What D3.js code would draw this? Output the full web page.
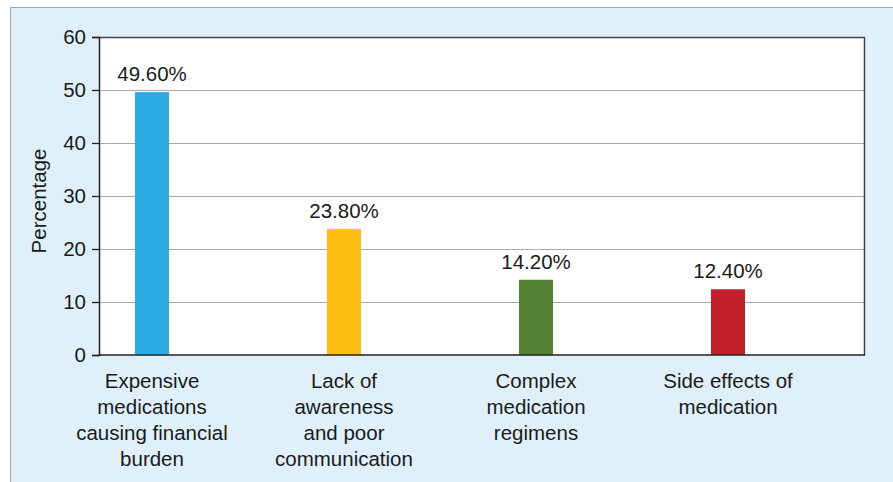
<!DOCTYPE html>
<html>
<head>
<meta charset="utf-8">
<script src="https://cdn.jsdelivr.net/npm/d3@7"></script>
<style>
  body { margin: 0; background: #fff; }
  svg { display: block; font-family: "Liberation Sans", Arial, sans-serif; }
</style>
</head>
<body>
<svg id="chart" width="893" height="482"></svg>
<script>
const categories = [
  ["Expensive", "medications", "causing financial", "burden"],
  ["Lack of", "awareness", "and poor", "communication"],
  ["Complex", "medication", "regimens"],
  ["Side effects of", "medication"]
];
const values = [49.6, 23.8, 14.2, 12.4];
const barColors = ["#29abe2", "#fdbf12", "#538135", "#c0202a"];
const yTicks = [0, 10, 20, 30, 40, 50, 60];

const width = 893, height = 482;
const plot = { left: 99, right: 865, top: 37, bottom: 355 };
const fs = 20.5;

const svg = d3.select("#chart");

// light blue panel
svg.append("rect")
    .attr("x", 10.5).attr("y", 7.5)
    .attr("width", width - 10).attr("height", height - 7)
    .attr("fill", "#dff0fa")
    .attr("stroke", "#a8a8a8");

svg.append("rect")
    .attr("x", plot.left).attr("y", plot.top)
    .attr("width", plot.right - plot.left).attr("height", plot.bottom - plot.top)
    .attr("fill", "#fff");

const y = d3.scaleLinear().domain([0, 60]).range([plot.bottom, plot.top]);
const x = d3.scalePoint()
    .domain(d3.range(values.length))
    .range([plot.left + 53, plot.right - 137]);
const barW = 34;

// grid
svg.append("g")
    .selectAll("line")
    .data(yTicks.filter(d => d > 0 && d < 60))
    .join("line")
    .attr("x1", plot.left).attr("x2", plot.right)
    .attr("y1", d => Math.round(y(d)) + 0.5).attr("y2", d => Math.round(y(d)) + 0.5)
    .attr("stroke", "#a9a9a9")
    .attr("stroke-width", 1.2);

// frame top/right
svg.append("path")
    .attr("d", `M${plot.left},${plot.top + 0.5}H${plot.right - 0.5}V${plot.bottom}`)
    .attr("fill", "none")
    .attr("stroke", "#444")
    .attr("stroke-width", 1.5);

// bars
svg.append("g")
    .selectAll("rect")
    .data(values)
    .join("rect")
    .attr("x", (d, i) => x(i) - barW / 2)
    .attr("y", d => y(d))
    .attr("width", barW)
    .attr("height", d => y(0) - y(d))
    .attr("fill", (d, i) => barColors[i]);

// value labels
svg.append("g")
    .selectAll("text")
    .data(values)
    .join("text")
    .attr("x", (d, i) => x(i))
    .attr("y", d => y(d) - 11)
    .attr("text-anchor", "middle")
    .attr("font-size", fs)
    .attr("fill", "#1a1a1a")
    .text(d => d.toFixed(2) + "%");

// y axis
const yAxis = svg.append("g")
    .attr("transform", `translate(${plot.left},0)`)
    .call(d3.axisLeft(y).tickValues(yTicks).tickSize(7).tickPadding(6));
yAxis.select(".domain").attr("stroke", "#222").attr("stroke-width", 1.5);
yAxis.selectAll(".tick line").attr("stroke", "#222").attr("stroke-width", 1.3);
yAxis.selectAll(".tick text")
    .attr("font-size", fs)
    .attr("font-family", "Liberation Sans, Arial, sans-serif")
    .attr("fill", "#1a1a1a");

// x axis baseline
svg.append("line")
    .attr("x1", plot.left).attr("x2", plot.right)
    .attr("y1", plot.bottom).attr("y2", plot.bottom)
    .attr("stroke", "#222")
    .attr("stroke-width", 1.5);

// category labels
const catText = svg.append("g")
    .selectAll("text")
    .data(categories)
    .join("text")
    .attr("text-anchor", "middle")
    .attr("font-size", fs)
    .attr("fill", "#1a1a1a");
catText.each(function(lines, i) {
  d3.select(this).selectAll("tspan")
    .data(lines)
    .join("tspan")
    .attr("x", x(i))
    .attr("y", (d, j) => 388 + j * 26)
    .text(d => d);
});

// y title
svg.append("text")
    .attr("transform", "translate(46,201) rotate(-90)")
    .attr("text-anchor", "middle")
    .attr("font-size", fs)
    .attr("fill", "#1a1a1a")
    .text("Percentage");
</script>
</body>
</html>
